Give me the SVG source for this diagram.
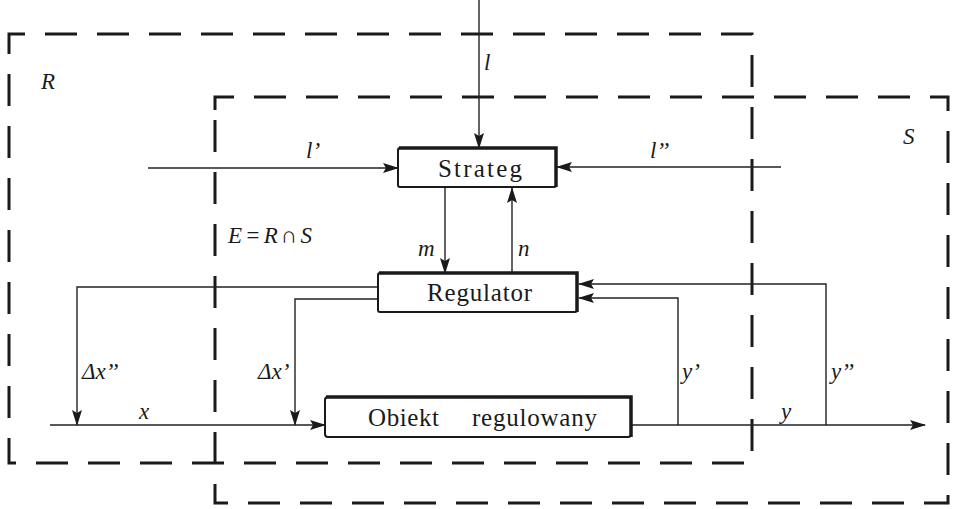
<svg xmlns="http://www.w3.org/2000/svg" width="960" height="509" viewBox="0 0 960 509">
<style>
.dash{fill:none;stroke:#1a1a1a;stroke-width:3;stroke-dasharray:32 20}
.ln{fill:none;stroke:#222;stroke-width:1.4}
.box{fill:#fff;stroke:#1a1a1a;stroke-width:2}
.sh{fill:none;stroke:#1a1a1a;stroke-width:3.5}
.bt{font-size:25px;fill:#1a1a1a}
.lb{font-size:23px;font-style:italic;fill:#1a1a1a}
</style>
<defs>
<marker id="ar" markerWidth="16" markerHeight="10" refX="15" refY="5" orient="auto" markerUnits="userSpaceOnUse">
<path d="M0,0 L16,5 L0,10 L3,5 Z" fill="#1a1a1a"/>
</marker>
</defs>
<rect width="960" height="509" fill="#fff"/>
<g id="regions">
<path class="dash" d="M9,50 V34 H752 V463 H9 Z"/>
<path class="dash" d="M215,110 V97 H948 V503 H215 Z"/>
</g>
<g id="connectors">
<line class="ln" x1="479" y1="0" x2="479" y2="148" marker-end="url(#ar)"/>
<line class="ln" x1="148" y1="168" x2="398" y2="168" marker-end="url(#ar)"/>
<line class="ln" x1="781" y1="167" x2="557" y2="167" marker-end="url(#ar)"/>
<line class="ln" x1="445" y1="188" x2="445" y2="273" marker-end="url(#ar)"/>
<line class="ln" x1="512" y1="273" x2="512" y2="188" marker-end="url(#ar)"/>
<polyline class="ln" points="378,287 77,287 77,425" marker-end="url(#ar)"/>
<polyline class="ln" points="378,299 295,299 295,425" marker-end="url(#ar)"/>
<line class="ln" x1="50" y1="425" x2="325" y2="425" marker-end="url(#ar)"/>
<line class="ln" x1="632" y1="425" x2="925" y2="425" marker-end="url(#ar)"/>
<polyline class="ln" points="678,425 678,298 579,298" marker-end="url(#ar)"/>
<polyline class="ln" points="826,425 826,284 579,284" marker-end="url(#ar)"/>
</g>
<g font-family="Liberation Serif, DejaVu Serif, serif">
<g id="strateg">
<rect class="box" x="398" y="148" width="158" height="39" rx="2"/>
<path class="sh" d="M399,148 H556 V187"/>
<text class="bt" x="438" y="177" textLength="84" lengthAdjust="spacing">Strateg</text>
</g>
<g id="regulator">
<rect class="box" x="378" y="273" width="199" height="39" rx="2"/>
<path class="sh" d="M379,273 H577 V312"/>
<text class="bt" x="427" y="301" textLength="105" lengthAdjust="spacing">Regulator</text>
</g>
<g id="obiekt">
<rect class="box" x="325" y="397" width="306" height="40" rx="3"/>
<path class="sh" d="M326,397 H631 V437"/>
<text class="bt" x="368" y="426" textLength="71" lengthAdjust="spacing">Obiekt</text>
<text class="bt" x="472" y="426" textLength="125" lengthAdjust="spacing">regulowany</text>
</g>
<g id="labels">
<text class="lb" x="41" y="89">R</text>
<text class="lb" x="903" y="144">S</text>
<text class="lb" x="228" y="243" textLength="84" lengthAdjust="spacing">E=R∩S</text>
<text class="lb" x="484" y="70">l</text>
<text class="lb" x="306" y="158">l’</text>
<text class="lb" x="650" y="158">l’’</text>
<text class="lb" x="418" y="256">m</text>
<text class="lb" x="518" y="256">n</text>
<text class="lb" x="82" y="379">Δx’’</text>
<text class="lb" x="258" y="379">Δx’</text>
<text class="lb" x="139" y="419">x</text>
<text class="lb" x="682" y="379">y’</text>
<text class="lb" x="831" y="379">y’’</text>
<text class="lb" x="781" y="419">y</text>
</g>
</g>
</svg>
